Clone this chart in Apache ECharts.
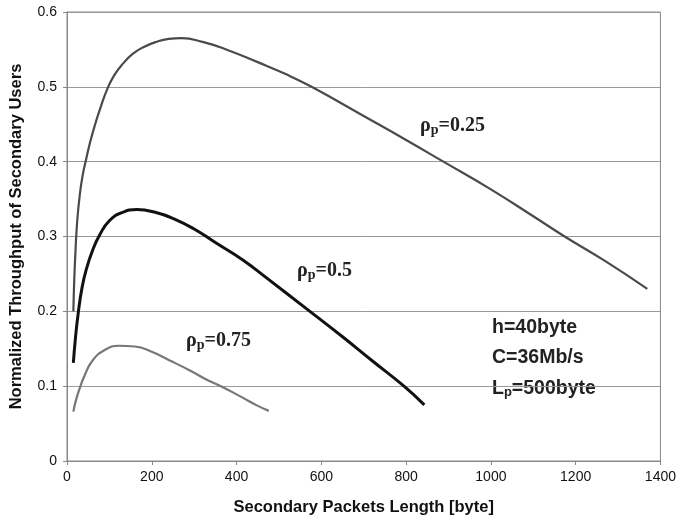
<!DOCTYPE html>
<html>
<head>
<meta charset="utf-8">
<script src="https://cdn.jsdelivr.net/npm/echarts@6/dist/echarts.min.js"></script>
<style>
html,body{margin:0;padding:0;background:#fff;}
#chart{width:679px;height:523px;}
</style>
</head>
<body>
<div id="chart"></div>
<script>
// Data: [packet length (byte), normalized throughput]
const rho025 = [[15,0.2],[17,0.24],[20,0.28],[24,0.32],[30,0.355],[37,0.382],[45,0.403],[55,0.427],[67,0.451],[80,0.474],[95,0.497],[112,0.516],[132,0.531],[155,0.544],[180,0.553],[210,0.56],[240,0.564],[270,0.565],[320,0.56],[380,0.549],[450,0.533],[520,0.516],[577,0.5],[700,0.461],[800,0.429],[888,0.4],[1000,0.363],[1100,0.327],[1174,0.3],[1270,0.267],[1369,0.23]];
const rho05 = [[15,0.131],[20,0.165],[27,0.2],[35,0.23],[45,0.255],[60,0.281],[77,0.302],[100,0.321],[130,0.332],[165,0.336],[210,0.332],[255,0.323],[300,0.31],[350,0.292],[414,0.269],[470,0.245],[573,0.2],[650,0.166],[720,0.134],[795,0.1],[843,0.075]];
const rho075 = [[15,0.066],[22,0.083],[30,0.097],[42,0.115],[60,0.134],[88,0.148],[122,0.154],[160,0.153],[200,0.146],[240,0.135],[290,0.121],[332,0.108],[363,0.1],[410,0.086],[449,0.074],[476,0.067]];
const seriesNames = ['0.25','0.5','0.75'];
const infoLines = ['h=40byte','C=36Mb/s'];
const xAxisTitle = 'Secondary Packets Length [byte]';
const yAxisTitle = 'Normalized Throughput of Secondary Users';

const chart = echarts.init(document.getElementById('chart'), null, {renderer:'canvas'});
const serifRich = {
  a:{fontFamily:'Liberation Serif',fontWeight:'bold',fontSize:20,fill:'#222'},
  b:{fontFamily:'Liberation Serif',fontWeight:'bold',fontSize:14,fill:'#222',padding:[9,0,0,0]}
};
function rhoLabel(val,x,y){
  return {type:'text',x:x,y:y,style:{text:'{a|ρ}{b|p}{a|='+val+'}',rich:serifRich}};
}
const sansFont = 'bold 19.5px "Liberation Sans", Arial, sans-serif';
chart.setOption({
  animation:false,
  backgroundColor:'#fff',
  grid:{left:63,right:17,top:12,bottom:62,show:true,borderColor:'#888',borderWidth:1},
  xAxis:{type:'value',min:0,max:1400,interval:200,
    name:xAxisTitle,nameLocation:'middle',nameGap:38,
    nameTextStyle:{fontFamily:'Liberation Sans',fontWeight:'bold',fontSize:16.5,color:'#111'},
    axisLine:{lineStyle:{color:'#888'}},
    axisTick:{show:true,inside:false,length:4,lineStyle:{color:'#888'}},
    axisLabel:{fontFamily:'Liberation Sans',fontSize:14,color:'#111',margin:9,formatter:v=>String(v)},
    splitLine:{show:false}},
  yAxis:{type:'value',min:0,max:0.6,interval:0.1,
    name:yAxisTitle,nameLocation:'middle',nameGap:42,nameRotate:90,
    nameTextStyle:{fontFamily:'Liberation Sans',fontWeight:'bold',fontSize:16.5,color:'#111'},
    axisLine:{show:true,lineStyle:{color:'#888'}},
    axisTick:{show:true,inside:false,length:4,lineStyle:{color:'#888'}},
    axisLabel:{fontFamily:'Liberation Sans',fontSize:14,color:'#111',margin:10,formatter:v=>String(v)},
    splitLine:{show:true,lineStyle:{color:'#999',width:1}}},
  series:[
    {name:seriesNames[0],type:'line',data:rho025,smooth:0.5,showSymbol:false,lineStyle:{color:'#4a4a4a',width:2.2}},
    {name:seriesNames[1],type:'line',data:rho05,smooth:0.5,showSymbol:false,lineStyle:{color:'#111',width:3}},
    {name:seriesNames[2],type:'line',data:rho075,smooth:0.5,showSymbol:false,lineStyle:{color:'#777',width:2.2}}
  ],
  graphic:[
    rhoLabel(seriesNames[0],420,114),
    rhoLabel(seriesNames[1],297,259),
    rhoLabel(seriesNames[2],186,329),
    {type:'text',x:492,y:318,style:{text:infoLines[0],font:sansFont,fill:'#222'}},
    {type:'text',x:492,y:348,style:{text:infoLines[1],font:sansFont,fill:'#222'}},
    {type:'text',x:492,y:378,style:{text:'{a|L}{b|p}{a|=500byte}',rich:{
      a:{fontFamily:'Liberation Sans',fontWeight:'bold',fontSize:19.5,fill:'#222'},
      b:{fontFamily:'Liberation Sans',fontWeight:'bold',fontSize:13,fill:'#222',padding:[8,0,0,0]}}}}
  ]
});
</script>
</body>
</html>
